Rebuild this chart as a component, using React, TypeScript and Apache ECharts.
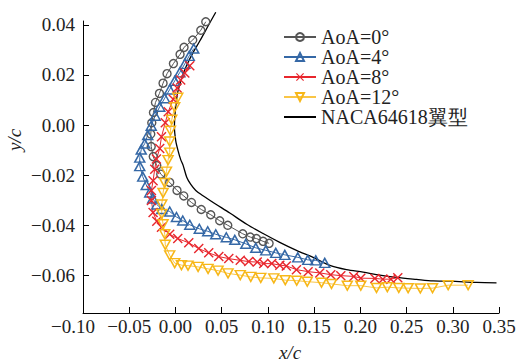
import React, { useEffect, useRef } from "react";
import * as echarts from "echarts";

// AoA = 0° (gray circles)
const aoa0: [number, number][] = [
  [0.0328, 0.0412], [0.0274, 0.0378], [0.0187, 0.0339], [0.0093, 0.031], [0.005, 0.0282],
  [-0.0022, 0.0245], [-0.0091, 0.0205], [-0.0134, 0.0167], [-0.0173, 0.0126], [-0.0216, 0.009],
  [-0.0238, 0.005], [-0.0256, 0.0009], [-0.0267, -0.0036], [-0.0262, -0.0086], [-0.024, -0.0126],
  [-0.0202, -0.0162], [-0.0159, -0.0196], [-0.0062, -0.0229], [0.0017, -0.0261], [0.009, -0.0283],
  [0.0173, -0.0309], [0.0279, -0.0337], [0.0382, -0.0358], [0.0479, -0.0382], [0.0566, -0.04],
  [0.0728, -0.0434], [0.0809, -0.0447], [0.0876, -0.0453], [0.0948, -0.0464], [0.1013, -0.0472],
];

// AoA = 4° (blue triangles)
const aoa4: [number, number][] = [
  [0.0198, 0.0305], [0.0149, 0.0276], [0.0101, 0.0244], [0.0047, 0.021], [-0.0008, 0.0176],
  [-0.0062, 0.0142], [-0.0116, 0.0107], [-0.017, 0.0073], [-0.0219, 0.0037], [-0.0262, -0.0003],
  [-0.03, -0.004], [-0.0332, -0.0074], [-0.037, -0.0098], [-0.0386, -0.013], [-0.0386, -0.0164],
  [-0.0354, -0.0206], [-0.0316, -0.0239], [-0.0278, -0.0269], [-0.0246, -0.0293], [-0.0202, -0.0317],
  [-0.0148, -0.0335], [-0.0062, -0.0345], [0.0011, -0.0367], [0.0079, -0.0381], [0.0155, -0.0398],
  [0.0258, -0.0414], [0.0349, -0.0424], [0.0436, -0.0436], [0.055, -0.0448], [0.0642, -0.0458],
  [0.0761, -0.0474], [0.0869, -0.049], [0.0977, -0.05], [0.1085, -0.051], [0.1183, -0.0518],
  [0.1323, -0.0528], [0.1431, -0.0538], [0.1518, -0.054], [0.1615, -0.055],
];

// AoA = 8° (red crosses)
const aoa8: [number, number][] = [
  [0.0155, 0.0236], [0.0101, 0.0208], [0.0057, 0.018], [0.0019, 0.0148], [-0.0024, 0.0103],
  [-0.0078, 0.0053], [-0.011, 0.0009], [-0.0151, -0.0047], [-0.017, -0.0094], [-0.0206, -0.0136],
  [-0.0224, -0.0176], [-0.0242, -0.0222], [-0.026, -0.0261], [-0.026, -0.0301], [-0.0242, -0.0349],
  [-0.0202, -0.0384], [-0.0151, -0.0408], [-0.0062, -0.0436], [0.0025, -0.0453], [0.0144, -0.047],
  [0.0252, -0.0493], [0.036, -0.051], [0.0469, -0.0525], [0.0577, -0.0533], [0.0701, -0.054],
  [0.0793, -0.0545], [0.0885, -0.0547], [0.0955, -0.0553], [0.1042, -0.0553], [0.1129, -0.0559],
  [0.1199, -0.0562], [0.1309, -0.0577], [0.1435, -0.0585], [0.1561, -0.059], [0.168, -0.0597],
  [0.1789, -0.0601], [0.1929, -0.0604], [0.2005, -0.0611], [0.2157, -0.0612], [0.2243, -0.0615],
  [0.233, -0.0615], [0.2405, -0.0609],
];

// AoA = 12° (yellow down-triangles)
const aoa12: [number, number][] = [
  [0.0025, 0.0109], [-0.0008, 0.0071], [-0.004, 0.0021], [-0.0054, -0.0023], [-0.0062, -0.0066],
  [-0.0062, -0.011], [-0.008, -0.014], [-0.0097, -0.0186], [-0.0116, -0.0231], [-0.0134, -0.0271],
  [-0.0148, -0.0317], [-0.0148, -0.0355], [-0.0134, -0.0396], [-0.0116, -0.0436], [-0.011, -0.0478],
  [-0.0062, -0.052], [-0.0008, -0.0551], [0.0065, -0.0559], [0.0136, -0.0561], [0.0245, -0.0566],
  [0.0353, -0.0574], [0.0461, -0.0581], [0.0569, -0.0592], [0.0701, -0.0599], [0.0815, -0.0606],
  [0.0923, -0.061], [0.1064, -0.0612], [0.1188, -0.0619], [0.1312, -0.0621], [0.1426, -0.0625],
  [0.158, -0.0629], [0.1688, -0.0634], [0.1859, -0.0641], [0.2005, -0.0641], [0.2175, -0.065],
  [0.2292, -0.0647], [0.2416, -0.065], [0.2517, -0.0651], [0.2649, -0.0652], [0.2781, -0.0651],
  [0.295, -0.0639], [0.3166, -0.0639],
];

// NACA64618 airfoil contour
const naca: [number, number][] = [
  [0.0436, 0.045], [0.0353, 0.0395], [0.0263, 0.0335], [0.019, 0.0289], [0.0119, 0.0236],
  [0.0065, 0.0183], [0.0028, 0.0136], [0.0011, 0.0097], [-0.0004, 0.0045], [-0.0011, -0.0007],
  [0.0003, -0.0062], [0.0028, -0.0102], [0.0057, -0.0138], [0.0084, -0.0162], [0.0122, -0.0208],
  [0.0166, -0.0237], [0.022, -0.0261], [0.0285, -0.0279], [0.0425, -0.0313], [0.0588, -0.0351],
  [0.0771, -0.0396], [0.0948, -0.0433], [0.1128, -0.0468], [0.1309, -0.05], [0.1489, -0.0528],
  [0.167, -0.056], [0.185, -0.0577], [0.203, -0.0587], [0.2211, -0.0599], [0.2391, -0.0608],
  [0.2608, -0.0616], [0.2787, -0.0622], [0.2968, -0.0623], [0.3257, -0.0628], [0.3473, -0.063],
];

const xTicks = [-0.1, -0.05, 0, 0.05, 0.1, 0.15, 0.2, 0.25, 0.3, 0.35];
const yTicks = [-0.06, -0.04, -0.02, 0, 0.02, 0.04];
const seriesNames = ["AoA=0°", "AoA=4°", "AoA=8°", "AoA=12°", "NACA64618翼型"];

const FONT = "Liberation Serif";
const CROSS = "path://M0,1L1,0L5,4L9,0L10,1L6,5L10,9L9,10L5,6L1,10L0,9L4,5Z";

const fmt = (v: number) => {
  if (Math.abs(v) < 1e-9) return "0.00";
  return v.toFixed(2).replace("-", "\u2212");
};

const fmtX = (v: number) => {
  const s = fmt(v);
  return Math.abs(v - xTicks[0]) < 1e-9 ? "{m|" + s + "}" : s;
};

export default function App() {
  const ref = useRef<HTMLDivElement>(null);
  useEffect(() => {
    if (!ref.current) return;
    const chart = echarts.init(ref.current, undefined, { renderer: "svg" });
    const gray = "#555555";
    const blue = "#3568a6";
    const red = "#e8262d";
    const yellow = "#f7b718";
    chart.setOption({
      animation: false,
      backgroundColor: "#fff",
      textStyle: { fontFamily: FONT },
      grid: { left: 83, right: 18, top: 21, bottom: 49, outerBoundsMode: "none", containLabel: false },
      xAxis: {
        type: "value",
        min: -0.1,
        max: 0.35,
        interval: 0.05,
        axisLine: { show: true, onZero: false, lineStyle: { color: "#000", width: 1 } },
        splitLine: { show: false },
        axisTick: { show: true, inside: true, length: 6, customValues: xTicks, lineStyle: { color: "#000" } },
        axisLabel: {
          fontFamily: FONT,
          fontSize: 19,
          color: "#222",
          formatter: fmtX,
          margin: 4,
          rich: {
            m: { fontFamily: FONT, fontSize: 19, color: "#222", padding: [0, 20, 0, 0] },
          },
        },
      },
      yAxis: {
        type: "value",
        min: -0.075,
        max: 0.0415,
        splitNumber: 5,
        axisLine: { show: true, onZero: false, lineStyle: { color: "#000", width: 1 } },
        splitLine: { show: false },
        axisTick: { show: true, inside: true, length: 6, customValues: yTicks, lineStyle: { color: "#000" } },
        axisLabel: {
          fontFamily: FONT,
          fontSize: 19,
          color: "#222",
          formatter: fmt,
          margin: 8,
          showMinLabel: false,
          showMaxLabel: false,
        },
      },
      legend: {
        orient: "vertical",
        left: 283,
        top: 27,
        padding: 0,
        itemWidth: 32,
        itemHeight: 10,
        itemGap: 0,
        data: [
          seriesNames[0],
          seriesNames[1],
          seriesNames[2],
          seriesNames[3],
          { name: seriesNames[4], itemStyle: { opacity: 0 } },
        ],
        textStyle: { fontFamily: FONT, fontSize: 20, color: "#222", lineHeight: 19 },
      },
      graphic: [
        {
          type: "text",
          x: 14,
          y: 140,
          rotation: Math.PI / 2,
          style: {
            text: "y/c",
            font: "italic 19px " + FONT,
            fill: "#222",
            align: "center",
            verticalAlign: "middle",
          },
        },
        {
          type: "text",
          x: 290,
          y: 352,
          style: {
            text: "x/c",
            font: "italic 19px " + FONT,
            fill: "#222",
            align: "center",
            verticalAlign: "middle",
          },
        },
      ],
      series: [
        {
          name: seriesNames[4],
          type: "line",
          data: naca,
          showSymbol: false,
          symbol: "none",
          smooth: 0.3,
          clip: false,
          z: 1,
          lineStyle: { color: "#000", width: 1.3 },
          itemStyle: { color: "#000" },
        },
        {
          name: seriesNames[0],
          type: "line",
          data: aoa0,
          symbol: "circle",
          symbolSize: 8,
          showAllSymbol: true,
          z: 3,
          lineStyle: { color: gray, width: 1 },
          itemStyle: { color: "rgba(255,255,255,0)", borderColor: gray, borderWidth: 1.4 },
        },
        {
          name: seriesNames[1],
          type: "line",
          data: aoa4,
          symbol: "triangle",
          symbolSize: [10, 9],
          showAllSymbol: true,
          z: 3,
          lineStyle: { color: blue, width: 1 },
          itemStyle: { color: "rgba(255,255,255,0)", borderColor: blue, borderWidth: 1.5 },
        },
        {
          name: seriesNames[2],
          type: "line",
          data: aoa8,
          symbol: CROSS,
          symbolSize: 10,
          showAllSymbol: true,
          z: 3,
          lineStyle: { color: red, width: 1 },
          itemStyle: { color: red, borderWidth: 0 },
        },
        {
          name: seriesNames[3],
          type: "line",
          data: aoa12,
          symbol: "triangle",
          symbolRotate: 180,
          symbolSize: [10, 9],
          showAllSymbol: true,
          z: 3,
          lineStyle: { color: yellow, width: 1, opacity: 0.8 },
          itemStyle: { color: "rgba(255,255,255,0)", borderColor: yellow, borderWidth: 1.5 },
        },
      ],
    });
    return () => chart.dispose();
  }, []);
  return <div ref={ref} style={{ width: 517, height: 362, position: "absolute", left: 0, top: 0 }} />;
}
